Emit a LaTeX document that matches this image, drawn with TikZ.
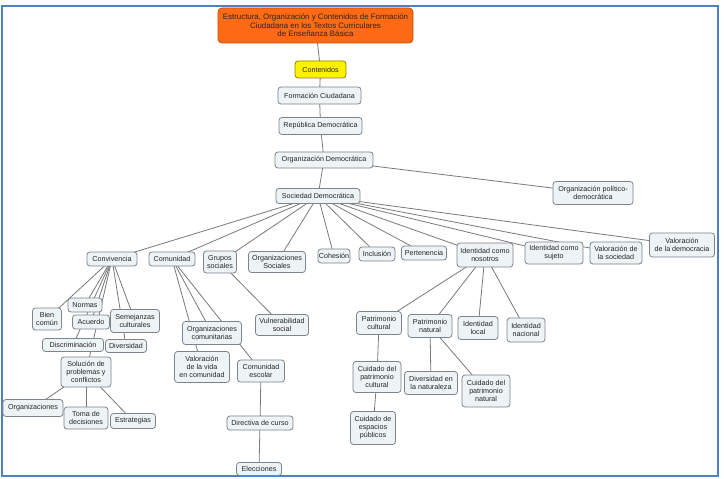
\documentclass[tikz,border=0pt]{standalone}
\usepackage{fontspec}
\setmainfont{Liberation Sans}
\usetikzlibrary{backgrounds}
\definecolor{boxfill}{HTML}{EEF3F6}
\definecolor{boxline}{HTML}{7C848C}
\definecolor{linkc}{HTML}{7A7A7A}
\definecolor{framec}{HTML}{4F7FBF}
\definecolor{orangef}{HTML}{FF6A14}
\definecolor{oranged}{HTML}{C8500A}
\tikzset{
  cbox/.style={draw=boxline, fill=boxfill, rounded corners=3bp, line width=0.8bp,
    align=center, inner sep=0.5bp, font=\fontsize{7.2}{7.9}\selectfont, text=black!85},
  link/.style={draw=linkc, line width=0.8bp},
}
\newcommand{\bx}[6]{\node[cbox, minimum width=#4bp, minimum height=#5bp] (#1) at (#2,#3) {#6};}
\begin{document}
\begin{tikzpicture}[x=1bp,y=-1bp]
\useasboundingbox (0,0) rectangle (724,479);

\node[cbox, fill=orangef, draw=oranged, minimum width=195bp, minimum height=35bp, rounded corners=4bp, font=\fontsize{7.9}{8.6}\selectfont] (title) at (315.5,25.5)
  {Estructura, Organización y Contenidos de Formación\\Ciudadana en los Textos Curriculares\\de Enseñanza Básica};
\node[cbox, fill=yellow, draw=olive, minimum width=51bp, minimum height=17bp] (cont) at (320.5,69.5) {Contenidos};
\bx{fc}{319.5}{95.5}{83}{17}{Formación Ciudadana}
\bx{rd}{320.5}{126}{83}{17}{República Democrática}
\bx{od}{324}{160}{98}{16}{Organización Democrática}
\bx{sd}{318}{196}{84}{15}{Sociedad Democrática}
\bx{opd}{593}{193}{80}{23}{Organización político-\\democrática}
\bx{vdem}{682}{245}{65}{24}{Valoración\\de la democracia}
\bx{vsoc}{616}{253}{52}{22}{Valoración de\\la sociedad}
\bx{ids}{554}{253}{58}{22}{Identidad como\\sujeto}
\bx{idn}{485}{255}{56}{24}{Identidad como\\nosotros}
\bx{pert}{424}{253}{45}{14}{Pertenencia}
\bx{incl}{377}{254}{36}{14}{Inclusión}
\bx{coh}{334}{256}{32}{14}{Cohesión}
\bx{orgs}{277}{262}{57}{21}{Organizaciones\\Sociales}
\bx{grup}{220}{262}{33}{22}{Grupos\\sociales}
\bx{comu}{172}{259}{46}{14}{Comunidad}
\bx{conv}{112}{259}{50}{14}{Convivencia}
\bx{norm}{85}{305}{34}{14}{Normas}
\bx{bien}{47}{319}{29}{22}{Bien\\común}
\bx{acu}{91}{322}{37}{14}{Acuerdo}
\bx{sem}{135}{321}{49}{23}{Semejanzas\\culturales}
\bx{disc}{73}{345}{61}{13}{Discriminación}
\bx{div}{126}{346}{41}{13}{Diversidad}
\bx{sol}{86}{372}{50}{30}{Solución de\\problemas y\\conflictos}
\bx{orgz}{33}{408}{60}{17}{Organizaciones}
\bx{toma}{86}{418}{44}{22}{Toma de\\decisiones}
\bx{estr}{133}{421}{45}{15}{Estrategias}
\bx{orgc}{212}{333}{59}{23}{Organizaciones\\comunitarias}
\bx{vul}{282}{325}{53}{21}{Vulnerabilidad\\social}
\bx{vvida}{202}{367}{55}{31}{Valoración\\de la vida\\en comunidad}
\bx{cesc}{261}{371}{47}{22}{Comunidad\\escolar}
\bx{dir}{260}{423}{66}{14}{Directiva de curso}
\bx{elec}{259}{469}{45}{13}{Elecciones}
\bx{pcul}{379}{323}{45}{23}{Patrimonio\\cultural}
\bx{pnat}{430}{326}{44}{23}{Patrimonio\\natural}
\bx{iloc}{478}{328}{40}{23}{Identidad\\local}
\bx{inac}{526}{330}{38}{24}{Identidad\\nacional}
\bx{cpc}{377}{377}{48}{31}{Cuidado del\\patrimonio\\cultural}
\bx{dnat}{431}{383}{53}{23}{Diversidad en\\la naturaleza}
\bx{cpn}{486}{391}{48}{32}{Cuidado del\\patrimonio\\natural}
\bx{cep}{373}{428}{45}{33}{Cuidado de\\espacios\\públicos}

\begin{scope}[on background layer]
\fill[white] (0,0) rectangle (724,479);
\draw[framec, line width=2bp] (2,6) rectangle (718,476);
\draw[link] (title.center) -- (cont.center) -- (fc.center) -- (rd.center) -- (od.center) -- (sd.center);
\draw[link] (od.center) -- (opd.center);
\foreach \t in {conv,comu,grup,orgs,coh,incl,pert,idn,ids,vsoc,vdem}
  \draw[link] (sd.center) -- (\t.center);
\foreach \t in {bien,norm,acu,disc,sol,sem,div}
  \draw[link] (conv.center) -- (\t.center);
\foreach \t in {orgc,vvida,cesc}
  \draw[link] (comu.center) -- (\t.center);
\draw[link] (grup.center) -- (vul.center);
\foreach \t in {orgz,toma,estr}
  \draw[link] (sol.center) -- (\t.center);
\draw[link] (cesc.center) -- (dir.center) -- (elec.center);
\foreach \t in {pcul,pnat,iloc,inac}
  \draw[link] (idn.center) -- (\t.center);
\draw[link] (pcul.center) -- (cpc.center) -- (cep.center);
\draw[link] (pnat.center) -- (dnat.center);
\draw[link] (pnat.center) -- (cpn.center);
\end{scope}
\end{tikzpicture}
\end{document}
